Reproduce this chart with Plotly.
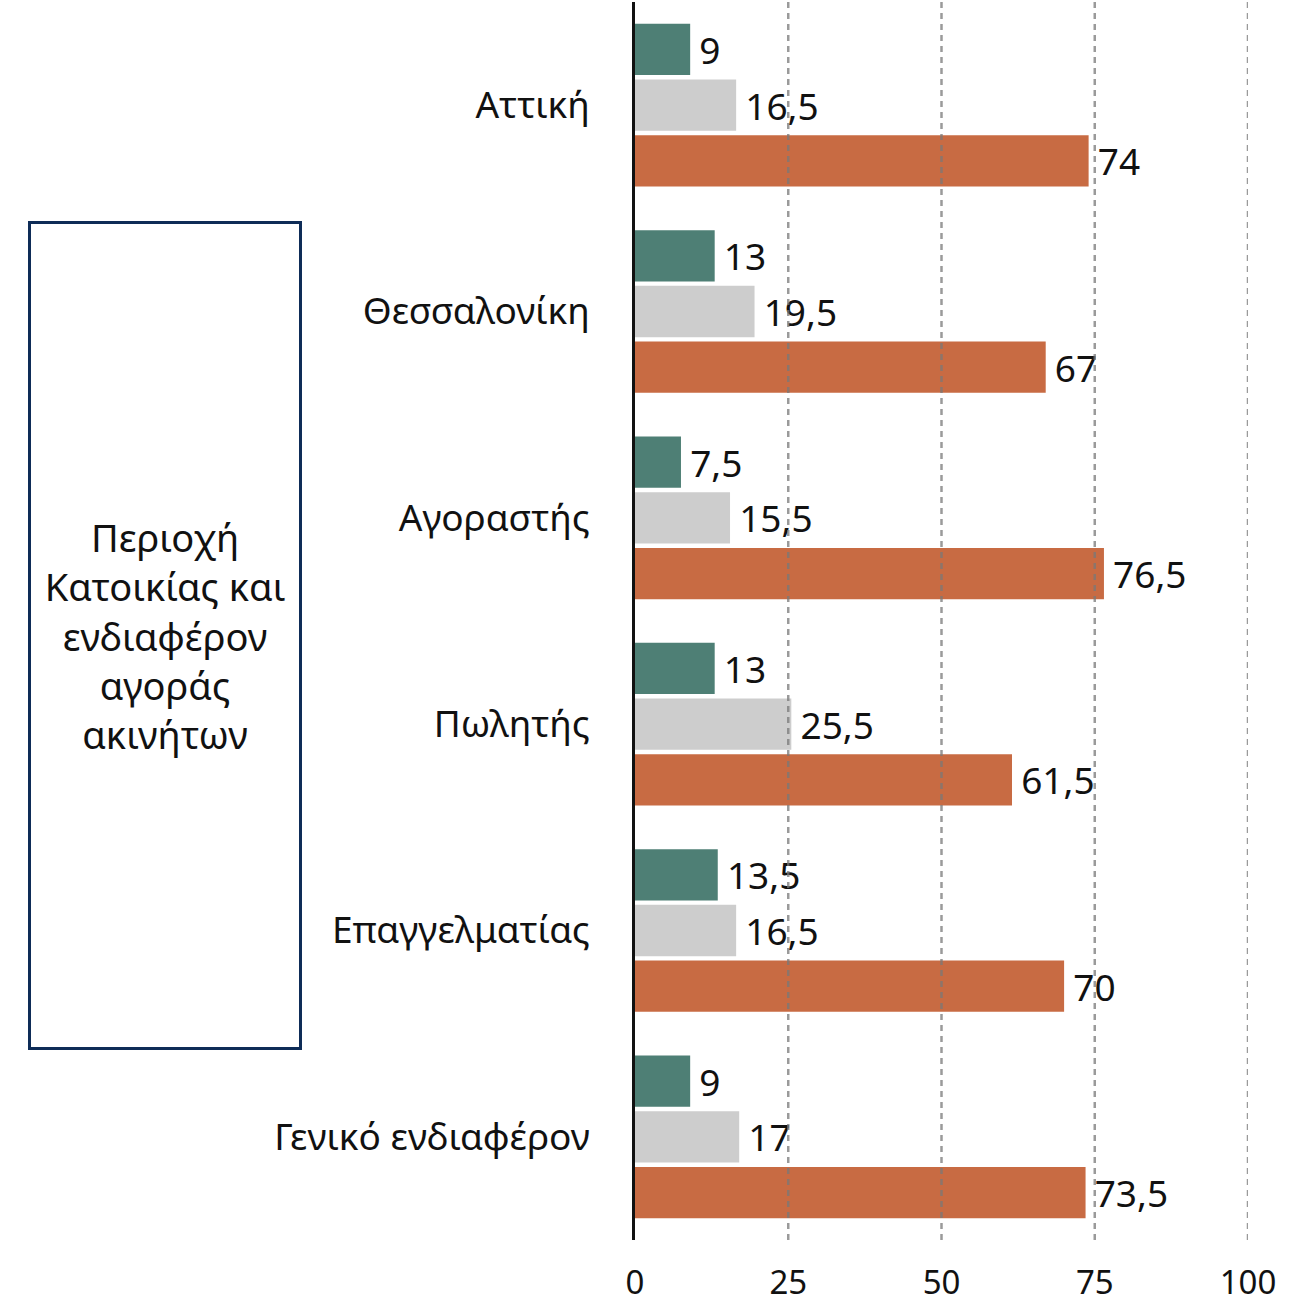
import plotly.graph_objects as go

# Categories (top to bottom) and the three series per category
categories = ["Αττική", "Θεσσαλονίκη", "Αγοραστής", "Πωλητής", "Επαγγελματίας", "Γενικό ενδιαφέρον"]
series_teal = [9, 13, 7.5, 13, 13.5, 9]
series_gray = [16.5, 19.5, 15.5, 25.5, 16.5, 17]
series_orange = [74, 67, 76.5, 61.5, 70, 73.5]
x_ticks = [0, 25, 50, 75, 100]
box_lines = ["Περιοχή", "Κατοικίας και", "ενδιαφέρον", "αγοράς", "ακινήτων"]

FONT = "Noto Sans"


def fmt(v):
    return f"{v:g}".replace(".", ",")


fig = go.Figure()
for vals, color in [(series_teal, "#4E7F75"), (series_gray, "#CDCDCD"), (series_orange, "#C86B43")]:
    fig.add_trace(go.Bar(
        y=categories, x=vals, orientation="h",
        marker=dict(color=color, line=dict(width=0)),
        text=[fmt(v) for v in vals], texttemplate="\u2009%{text}", textposition="outside",
        textfont=dict(family=FONT, size=37, color="#111111"),
        cliponaxis=False, showlegend=False,
    ))

# dashed vertical gridlines drawn over the bars
for t in x_ticks[1:]:
    fig.add_shape(type="line", xref="x", yref="paper", x0=t, x1=t, y0=0, y1=1,
                  line=dict(color="rgba(120,120,120,0.75)", width=2.5, dash="6px,5px"),
                  layer="above")

# framed side title
fig.add_annotation(
    xref="paper", yref="paper", x=-0.7667, y=0.4883, xanchor="center", yanchor="middle",
    text="<br>".join(box_lines), showarrow=False, align="center", valign="middle",
    width=268, height=823, borderpad=0, bordercolor="#0E2C57", borderwidth=3,
    font=dict(family=FONT, size=38, color="#111111"),
)

fig.update_layout(
    width=1302, height=1316,
    margin=dict(l=635, r=54, t=2, b=76),
    paper_bgcolor="white", plot_bgcolor="white",
    barmode="group", bargap=0.19, bargroupgap=0.08,
    xaxis=dict(range=[0, 100], tickvals=x_ticks, ticktext=[str(t) for t in x_ticks],
               showgrid=False, zeroline=False, showline=False,
               tickfont=dict(family=FONT, size=33, color="#111111"),
               ticklabelstandoff=20),
    yaxis=dict(autorange="reversed", showgrid=False, zeroline=False,
               showline=True, linecolor="#111111", linewidth=2.5,
               tickfont=dict(family=FONT, size=37, color="#111111"),
               ticklabelstandoff=35),
)

fig.write_html("out.html")
